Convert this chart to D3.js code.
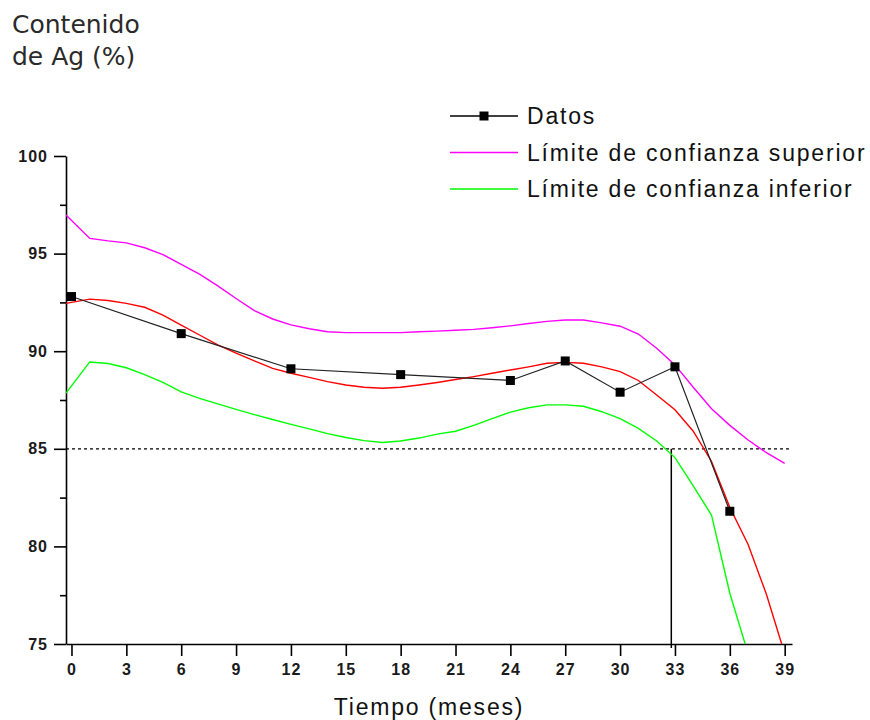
<!DOCTYPE html>
<html>
<head>
<meta charset="utf-8">
<script src="https://cdn.jsdelivr.net/npm/d3@7"></script>
<style>
  body { margin: 0; background: #fff; }
  svg { display: block; }
  .axis text { font-family: "Liberation Sans", Arial, sans-serif; font-size: 16px; font-weight: bold; letter-spacing: 1px; fill: #1a1a1a; }
  .axis path, .axis line { stroke: #000; stroke-width: 1.6px; }
  .label { font-family: "Liberation Sans", Arial, sans-serif; font-size: 23px; letter-spacing: 1.8px; fill: #111; }
  .ytitle { font-family: "DejaVu Sans", Verdana, sans-serif; font-size: 25px; fill: #2a2a2a; }
</style>
</head>
<body>
<div class="container"></div>
<script>
// measured points (black squares)
var dataMonths = [0, 6, 12, 18, 24, 27, 30, 33, 36];
var dataValues = [92.8, 90.9, 89.1, 88.8, 88.5, 89.5, 87.9, 89.2, 81.8];

// fitted curve and confidence limits
var fitMonths = [-0.3, 1, 2, 3, 4, 5, 6, 7, 8, 9, 10, 11, 12, 13, 14, 15, 16, 17, 18, 19,
  20, 21, 22, 23, 24, 25, 26, 27, 28, 29, 30, 31, 32, 33, 34, 35, 36, 37, 38, 39];
var fitValues = [92.45, 92.67, 92.6, 92.45, 92.25, 91.85, 91.34, 90.83, 90.32, 89.9,
  89.5, 89.12, 88.87, 88.66, 88.44, 88.27, 88.15, 88.1, 88.15, 88.27,
  88.4, 88.55, 88.7, 88.87, 89.04, 89.2, 89.38, 89.43, 89.38, 89.2,
  88.95, 88.5, 87.76, 87.0, 85.9, 84.35, 82.0, 80.1, 77.55, 74.5];
var upperValues = [96.98, 95.78, 95.65, 95.55, 95.3, 94.95, 94.45, 93.95, 93.35, 92.7,
  92.08, 91.65, 91.35, 91.15, 91.0, 90.95, 90.95, 90.95, 90.95, 91.0,
  91.03, 91.07, 91.12, 91.2, 91.3, 91.42, 91.53, 91.6, 91.6, 91.45,
  91.28, 90.88, 90.15, 89.3, 88.15, 87.05, 86.2, 85.45, 84.8, 84.25];
var lowerValues = [87.85, 89.45, 89.37, 89.15, 88.8, 88.4, 87.92, 87.58, 87.3, 87.02,
  86.75, 86.5, 86.25, 86.02, 85.78, 85.58, 85.42, 85.32, 85.4, 85.55,
  85.75, 85.9, 86.2, 86.55, 86.88, 87.1, 87.25, 87.25, 87.18, 86.9,
  86.55, 86.05, 85.4, 84.55, 83.1, 81.6, 77.6, 74.5, null, null];

var specLimit = 85;
var cutoffMonth = 32.8;

var xTicks = [0, 3, 6, 9, 12, 15, 18, 21, 24, 27, 30, 33, 36, 39];
var yTicks = [75, 80, 85, 90, 95, 100];
var yMinorTicks = [77.5, 82.5, 87.5, 92.5, 97.5];

var legendLabels = ["Datos", "Límite de confianza superior", "Límite de confianza inferior"];
var legendColors = ["#000", "#ff00ff", "#00ff00"];

const WIDTH = 870;
const HEIGHT = 720;

var translate = function (x, y) {
  return "translate(" + x + "," + y + ")";
};

var svg = d3.select('.container').append('svg')
  .attr('width', WIDTH)
  .attr('height', HEIGHT);

var xScale = d3.scaleLinear().domain([-0.3, 39.4]).range([66, 792]);
var yScale = d3.scaleLinear().domain([75, 100]).range([644, 156]);

svg.append('defs').append('clipPath').attr('id', 'plot')
  .append('rect')
  .attr('x', xScale(-0.3)).attr('y', 0)
  .attr('width', WIDTH - xScale(-0.3)).attr('height', yScale(75));

// axes
svg.append('g').attr('class', 'axis')
  .attr('transform', translate(0, yScale(75)))
  .call(d3.axisBottom(xScale).tickValues(xTicks).tickSize(12).tickSizeOuter(0).tickPadding(8));

svg.append('g').attr('class', 'axis')
  .attr('transform', translate(xScale(-0.3), 0))
  .call(d3.axisLeft(yScale).tickValues(yTicks).tickSize(12).tickSizeOuter(0).tickPadding(6));

svg.append('g').attr('class', 'axis')
  .attr('transform', translate(xScale(-0.3), 0))
  .call(d3.axisLeft(yScale).tickValues(yMinorTicks).tickSize(6).tickFormat(''))
  .select('.domain').remove();

// 85 % limit and the cut-off month
svg.append('line')
  .attr('x1', xScale(-0.3)).attr('x2', 790)
  .attr('y1', yScale(specLimit)).attr('y2', yScale(specLimit))
  .attr('stroke', '#000').attr('stroke-width', 1.2)
  .attr('stroke-dasharray', '3,3');

svg.append('line')
  .attr('x1', xScale(cutoffMonth)).attr('x2', xScale(cutoffMonth))
  .attr('y1', yScale(specLimit)).attr('y2', yScale(75) + 4)
  .attr('stroke', '#000').attr('stroke-width', 1.5);

var plot = svg.append('g').attr('clip-path', 'url(#plot)');

var curve = function (values) {
  return d3.line()
    .defined(function (d, i) { return values[i] != null; })
    .x(function (d, i) { return xScale(fitMonths[i]); })
    .y(function (d, i) { return yScale(values[i]); })(values);
};

plot.append('path').attr('d', curve(upperValues))
  .attr('fill', 'none').attr('stroke', '#ff00ff').attr('stroke-width', 1.4);
plot.append('path').attr('d', curve(lowerValues))
  .attr('fill', 'none').attr('stroke', '#00ff00').attr('stroke-width', 1.4);
plot.append('path').attr('d', curve(fitValues))
  .attr('fill', 'none').attr('stroke', '#ff0000').attr('stroke-width', 1.4);

var dataLine = d3.line()
  .x(function (d, i) { return xScale(dataMonths[i]); })
  .y(function (d) { return yScale(d); });

svg.append('path').attr('d', dataLine(dataValues))
  .attr('fill', 'none').attr('stroke', '#222').attr('stroke-width', 1.2);

svg.selectAll('rect.pt')
  .data(dataValues)
  .enter().append('rect')
  .attr('class', 'pt')
  .attr('x', function (d, i) { return xScale(dataMonths[i]) - 4.5; })
  .attr('y', function (d) { return yScale(d) - 4.5; })
  .attr('width', 9).attr('height', 9)
  .attr('fill', '#000');

// legend
var legend = svg.append('g').attr('transform', translate(450, 116));
legendLabels.forEach(function (name, i) {
  var row = legend.append('g').attr('transform', translate(0, i * 36.5));
  row.append('line').attr('x1', 0).attr('x2', 68).attr('y1', 0).attr('y2', 0)
    .attr('stroke', legendColors[i]).attr('stroke-width', i === 0 ? 1.3 : 1.6);
  if (i === 0) {
    row.append('rect').attr('x', 29.5).attr('y', -4.5).attr('width', 9).attr('height', 9).attr('fill', '#000');
  }
  row.append('text').attr('class', 'label').attr('x', 77).attr('y', 8).text(name);
});

// titles
svg.append('text').attr('class', 'label')
  .attr('x', 429).attr('y', 715).attr('text-anchor', 'middle')
  .text('Tiempo (meses)');

svg.append('text').attr('class', 'ytitle').attr('x', 12).attr('y', 33).text('Contenido');
svg.append('text').attr('class', 'ytitle').attr('x', 12).attr('y', 65).text('de Ag (%)');
</script>
</body>
</html>
